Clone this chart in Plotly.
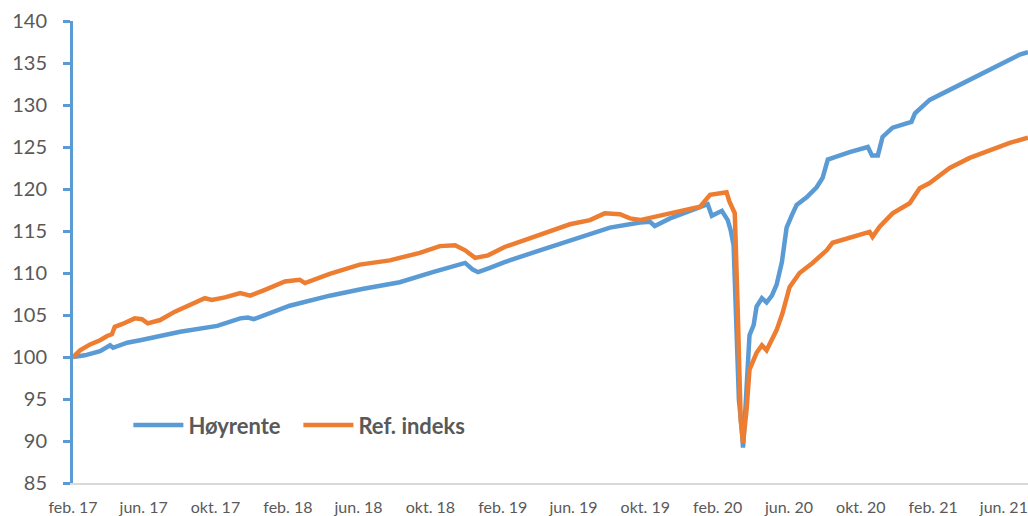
import plotly.graph_objects as go

# --- Data ---
hoy_dates = [
    "2017-02-01", "2017-02-21", "2017-03-19", "2017-04-05", "2017-04-10", "2017-05-04",
    "2017-05-26", "2017-06-24", "2017-08-02", "2017-10-04", "2017-11-12", "2017-11-25",
    "2017-12-05", "2018-02-04", "2018-04-13", "2018-06-07", "2018-08-10", "2018-10-05",
    "2018-11-20", "2018-11-29", "2018-12-12", "2018-12-21", "2019-01-10", "2019-02-04",
    "2019-04-05", "2019-06-07", "2019-08-02", "2019-09-22", "2019-10-09", "2019-10-17",
    "2019-11-12", "2019-12-16", "2020-01-15", "2020-01-22", "2020-02-08", "2020-02-18",
    "2020-02-23", "2020-02-28", "2020-03-03", "2020-03-08", "2020-03-13", "2020-03-15",
    "2020-03-18", "2020-03-23", "2020-03-26", "2020-04-02", "2020-04-07", "2020-04-16",
    "2020-04-24", "2020-05-03", "2020-05-11", "2020-05-20", "2020-05-28", "2020-06-06",
    "2020-06-14", "2020-07-01", "2020-07-18", "2020-07-28", "2020-08-06", "2020-08-18",
    "2020-09-12", "2020-10-13", "2020-10-20", "2020-10-30", "2020-11-07", "2020-11-24",
    "2020-12-26", "2021-01-01", "2021-01-26", "2021-03-01", "2021-04-04", "2021-04-26",
    "2021-05-30", "2021-06-28", "2021-07-12",
]
hoy_values = [
    100.0, 100.2, 100.7, 101.4, 101.1, 101.7,
    102.0, 102.4, 103.0, 103.7, 104.6, 104.7,
    104.5, 106.1, 107.3, 108.1, 108.9, 110.1,
    111.0, 111.2, 110.4, 110.1, 110.6, 111.3,
    112.7, 114.2, 115.4, 116.0, 116.1, 115.6,
    116.5, 117.4, 118.2, 116.8, 117.4, 116.3,
    115.1, 113.3, 105.6, 94.9, 91.3, 89.2,
    92.5, 98.5, 102.6, 103.8, 106.0, 107.0,
    106.5, 107.3, 108.6, 111.3, 115.4, 116.9,
    118.1, 119.0, 120.2, 121.3, 123.5, 123.8,
    124.4, 125.0, 124.0, 124.0, 126.2, 127.3,
    128.0, 129.0, 130.6, 131.8, 133.0, 133.9,
    135.0, 136.0, 136.3,
]

ref_dates = [
    "2017-02-01", "2017-02-13", "2017-03-02", "2017-03-19", "2017-03-31", "2017-04-08",
    "2017-04-13", "2017-04-25", "2017-05-17", "2017-05-29", "2017-06-08", "2017-06-29",
    "2017-07-24", "2017-08-27", "2017-09-13", "2017-09-25", "2017-10-17", "2017-11-12",
    "2017-11-29", "2017-12-24", "2018-01-27", "2018-02-21", "2018-03-02", "2018-04-13",
    "2018-06-03", "2018-07-24", "2018-09-13", "2018-10-17", "2018-11-12", "2018-11-29",
    "2018-12-16", "2019-01-07", "2019-02-04", "2019-03-10", "2019-04-22", "2019-05-26",
    "2019-06-29", "2019-07-24", "2019-08-19", "2019-09-05", "2019-09-22", "2019-10-17",
    "2019-11-29", "2020-01-02", "2020-01-19", "2020-02-16", "2020-02-21", "2020-03-01",
    "2020-03-06", "2020-03-11", "2020-03-15", "2020-03-21", "2020-03-26", "2020-04-07",
    "2020-04-16", "2020-04-24", "2020-05-11", "2020-05-21", "2020-06-02", "2020-06-19",
    "2020-07-11", "2020-08-04", "2020-08-14", "2020-09-17", "2020-10-16", "2020-10-21",
    "2020-11-02", "2020-11-24", "2020-12-23", "2021-01-09", "2021-01-26", "2021-03-01",
    "2021-04-04", "2021-05-08", "2021-06-11", "2021-07-12",
]
ref_values = [
    100.0, 100.8, 101.5, 102.0, 102.5, 102.7,
    103.6, 103.9, 104.6, 104.5, 104.0, 104.4,
    105.4, 106.4, 107.0, 106.8, 107.1, 107.6,
    107.3, 108.0, 109.0, 109.2, 108.8, 109.9,
    111.0, 111.5, 112.4, 113.2, 113.3, 112.7,
    111.8, 112.1, 113.1, 113.9, 115.0, 115.8,
    116.3, 117.1, 117.0, 116.5, 116.3, 116.7,
    117.3, 117.9, 119.3, 119.6, 118.5, 117.1,
    105.6, 92.5, 89.8, 93.7, 98.5, 100.5,
    101.4, 100.8, 103.2, 105.2, 108.3, 110.0,
    111.2, 112.7, 113.6, 114.3, 114.9, 114.3,
    115.5, 117.1, 118.3, 120.1, 120.7, 122.5,
    123.7, 124.6, 125.5, 126.1,
]

tick_dates = [
    "2017-02-01", "2017-06-01", "2017-10-01", "2018-02-01", "2018-06-01", "2018-10-01",
    "2019-02-01", "2019-06-01", "2019-10-01", "2020-02-01", "2020-06-01", "2020-10-01",
    "2021-02-01", "2021-06-01",
]
tick_labels = [
    "feb. 17", "jun. 17", "okt. 17", "feb. 18", "jun. 18", "okt. 18",
    "feb. 19", "jun. 19", "okt. 19", "feb. 20", "jun. 20", "okt. 20",
    "feb. 21", "jun. 21",
]
y_ticks = [85, 90, 95, 100, 105, 110, 115, 120, 125, 130, 135, 140]

BLUE = "#5B9BD5"
ORANGE = "#ED7D31"
GREY = "#595959"
FONT = "Lato, Carlito, 'Liberation Sans', sans-serif"

fig = go.Figure()
fig.add_trace(go.Scatter(
    x=hoy_dates, y=hoy_values, name="Høyrente", mode="lines",
    line=dict(color=BLUE, width=4.5),
))
fig.add_trace(go.Scatter(
    x=ref_dates, y=ref_values, name="Ref. indeks", mode="lines",
    line=dict(color=ORANGE, width=4.5),
))

fig.update_layout(
    width=1028, height=516,
    margin=dict(l=73, r=0, t=21, b=33),
    paper_bgcolor="white", plot_bgcolor="white",
    font=dict(family=FONT, color=GREY),
    showlegend=True,
    legend=dict(
        orientation="h", x=0.058, y=0.125, xanchor="left", yanchor="middle",
        font=dict(size=22, color=GREY, family=FONT, weight="bold"),
        bgcolor="rgba(0,0,0,0)", itemwidth=50, tracegroupgap=0,
        entrywidth=105,
    ),
    xaxis=dict(
        type="date", range=["2017-02-01", "2021-07-12"],
        tickmode="array", tickvals=tick_dates, ticktext=tick_labels,
        showgrid=False, zeroline=False,
        showline=True, linecolor="#D9D9D9", linewidth=1.5,
        ticks="", tickfont=dict(size=16, color=GREY),
        ticklabelstandoff=9,
    ),
    yaxis=dict(
        range=[85, 140], tickmode="array", tickvals=y_ticks,
        showgrid=False, zeroline=False,
        showline=True, linecolor=BLUE, linewidth=3,
        ticks="outside", ticklen=7, tickwidth=3, tickcolor=BLUE,
        tickfont=dict(size=20, color=GREY),
        ticklabelstandoff=12,
    ),
)

# remove the default page margin so the 1028x516 figure fills the window exactly
fig.write_html(
    "out.html",
    config={"displayModeBar": False},
    post_script="document.body.style.margin='0px';",
)
